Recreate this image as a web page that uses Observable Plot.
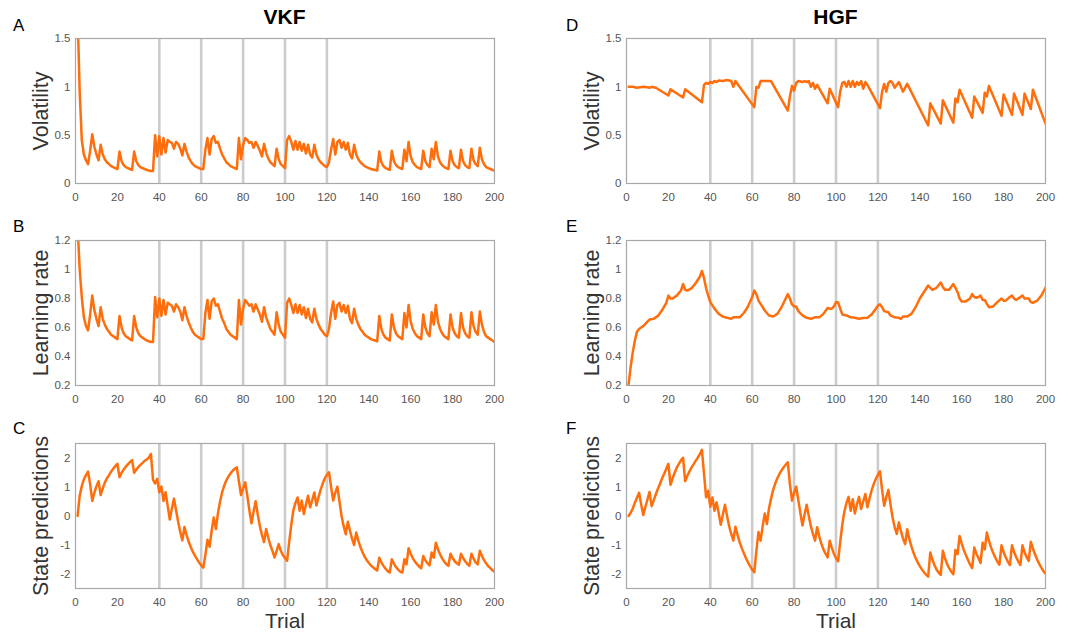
<!DOCTYPE html>
<html><head><meta charset="utf-8">
<script src="https://cdn.jsdelivr.net/npm/d3@7"></script>
<script src="https://cdn.jsdelivr.net/npm/@observablehq/plot@0.6"></script>
<style>
body{margin:0;background:#fff;font-family:"Liberation Sans",Arial,Helvetica,sans-serif;}
#root{position:relative;width:1068px;height:634px;overflow:hidden;background:#fff;}
.panel{position:absolute;}
.title{position:absolute;font-weight:bold;font-size:21px;line-height:1;transform:translateX(-50%);color:#000;}
.letter{position:absolute;font-size:17px;line-height:1;color:#000;}
</style></head><body><div id="root"></div>
<script>
const trialTicks = [0,20,40,60,80,100,120,140,160,180,200];
const blockBoundaries = [40,60,80,100,120];
const volatilityTicks = [0,0.5,1,1.5];
const learningRateTicks = [0.2,0.4,0.6,0.8,1,1.2];
const stateTicks = [-2,-1,0,1,2];

// VKF series, one value per trial (trial 1..200)
const vkfVolatility = [
1.75,0.95,0.45,0.3,0.24,0.2,0.34,0.51,0.38,0.3,
0.24,0.4,0.3,0.25,0.22,0.2,0.18,0.17,0.16,0.15,
0.33,0.23,0.19,0.17,0.16,0.15,0.14,0.33,0.23,0.19,
0.17,0.16,0.15,0.14,0.135,0.13,0.13,0.5,0.28,0.49,
0.3,0.47,0.32,0.45,0.43,0.42,0.36,0.43,0.41,0.36,
0.29,0.41,0.33,0.27,0.23,0.2,0.18,0.17,0.16,0.15,
0.15,0.35,0.47,0.3,0.46,0.49,0.42,0.43,0.36,0.3,
0.26,0.22,0.2,0.18,0.17,0.16,0.15,0.47,0.25,0.4,
0.47,0.45,0.42,0.43,0.37,0.43,0.39,0.34,0.28,0.41,
0.32,0.26,0.22,0.2,0.18,0.36,0.25,0.2,0.18,0.16,
0.45,0.49,0.43,0.35,0.44,0.35,0.43,0.34,0.41,0.31,
0.4,0.3,0.27,0.4,0.3,0.25,0.22,0.2,0.18,0.17,
0.22,0.35,0.46,0.3,0.43,0.45,0.37,0.43,0.35,0.42,
0.3,0.26,0.4,0.3,0.25,0.22,0.2,0.18,0.17,0.16,
0.15,0.145,0.14,0.135,0.33,0.22,0.18,0.16,0.15,0.14,
0.34,0.23,0.19,0.17,0.16,0.15,0.35,0.23,0.43,0.28,
0.22,0.19,0.17,0.16,0.15,0.34,0.23,0.19,0.17,0.36,
0.25,0.43,0.28,0.22,0.19,0.17,0.16,0.15,0.34,0.23,
0.19,0.17,0.16,0.35,0.23,0.19,0.17,0.16,0.36,0.24,
0.2,0.18,0.37,0.25,0.2,0.17,0.16,0.15,0.14,0.13];

const vkfLearningRate = [
1.3,1.0,0.81,0.67,0.61,0.58,0.69,0.82,0.72,0.66,
0.61,0.74,0.66,0.62,0.59,0.57,0.55,0.54,0.53,0.52,
0.68,0.6,0.56,0.54,0.53,0.52,0.51,0.68,0.6,0.56,
0.54,0.53,0.52,0.51,0.505,0.5,0.5,0.81,0.67,0.8,
0.68,0.79,0.69,0.77,0.76,0.75,0.71,0.76,0.74,0.71,
0.65,0.74,0.68,0.635,0.6,0.57,0.55,0.54,0.53,0.52,
0.52,0.7,0.79,0.66,0.78,0.8,0.75,0.76,0.71,0.66,
0.63,0.59,0.57,0.55,0.54,0.53,0.52,0.79,0.62,0.73,
0.79,0.77,0.75,0.76,0.71,0.76,0.725,0.69,0.64,0.74,
0.67,0.63,0.59,0.57,0.55,0.705,0.62,0.57,0.55,0.53,
0.77,0.8,0.755,0.7,0.76,0.7,0.755,0.69,0.74,0.665,
0.73,0.66,0.635,0.73,0.66,0.62,0.59,0.57,0.55,0.54,
0.59,0.7,0.78,0.66,0.755,0.77,0.71,0.755,0.7,0.75,
0.66,0.63,0.73,0.66,0.62,0.59,0.57,0.55,0.54,0.53,
0.52,0.515,0.51,0.505,0.68,0.59,0.55,0.53,0.52,0.51,
0.69,0.6,0.56,0.54,0.53,0.52,0.7,0.6,0.755,0.64,
0.59,0.56,0.54,0.53,0.52,0.69,0.6,0.56,0.54,0.705,
0.62,0.755,0.64,0.59,0.56,0.54,0.53,0.52,0.69,0.6,
0.56,0.54,0.53,0.7,0.6,0.56,0.54,0.53,0.705,0.61,
0.57,0.55,0.71,0.62,0.57,0.54,0.53,0.52,0.51,0.5];

const vkfState = [
0,0.7,1.03,1.26,1.41,1.53,1.09,0.52,0.8,1.03,
1.2,0.72,0.95,1.15,1.3,1.41,1.53,1.63,1.72,1.8,
1.34,1.49,1.6,1.7,1.78,1.86,1.93,1.49,1.6,1.69,
1.76,1.83,1.9,1.95,2.01,2.14,1.25,1.12,1.28,0.82,
1.02,0.52,0.82,0.35,-0.12,0.25,0.6,0.2,-0.2,-0.55,
-0.84,-0.38,-0.65,-0.88,-1.07,-1.23,-1.37,-1.49,-1.6,-1.7,
-1.78,-1.35,-0.82,-1.06,-0.5,-0.05,-0.45,0.1,0.5,0.82,
1.05,1.23,1.36,1.47,1.56,1.63,1.68,1.2,0.72,0.95,
1.16,0.7,0.2,-0.25,0.15,0.51,0.05,-0.35,-0.65,-0.9,
-0.45,-0.75,-1.0,-1.2,-1.43,-1.2,-0.97,-1.2,-1.35,-1.45,
-1.54,-0.9,-0.3,0.2,0.45,0.64,0.18,0.53,0.07,0.4,
0.7,0.3,0.55,0.81,0.36,0.65,0.9,1.12,1.3,1.42,
1.51,1.0,0.53,0.8,1.01,0.5,0.0,-0.35,-0.63,-0.2,
-0.5,-0.78,-1.0,-0.57,-0.85,-1.07,-1.25,-1.4,-1.52,-1.62,
-1.7,-1.77,-1.83,-1.88,-1.44,-1.6,-1.72,-1.82,-1.9,-1.95,
-1.49,-1.64,-1.76,-1.85,-1.92,-1.95,-1.49,-1.67,-1.11,-1.3,
-1.45,-1.57,-1.66,-1.74,-1.8,-1.38,-1.53,-1.63,-1.7,-1.26,
-1.44,-0.92,-1.15,-1.32,-1.46,-1.57,-1.66,-1.72,-1.3,-1.45,
-1.56,-1.63,-1.68,-1.3,-1.45,-1.56,-1.65,-1.72,-1.3,-1.47,
-1.6,-1.67,-1.2,-1.38,-1.52,-1.63,-1.73,-1.8,-1.87,-1.92];

// HGF series: [trial, value] vertices
const hgfVolatility = [[1,1.0],[3,1.0],[5,0.99],[8,1.0],[10,0.995],[11,0.99],[12,1.0],[14,0.99],[20,0.91],[21,0.975],[27,0.89],[28,0.975],[36,0.84],[37,1.02],[38,1.04],[39,1.03],[40,1.05],[41,1.04],[42,1.06],[43,1.05],[44,1.065],[46,1.06],[48,1.07],[50,1.06],[51,1.0],[52,1.06],[53,1.03],[61,0.79],[62,1.0],[63,0.99],[64,1.06],[69,1.06],[77,0.755],[78,0.9],[79,1.01],[80,0.96],[81,1.04],[82,1.06],[84,1.05],[85,1.06],[86,1.05],[87,1.06],[88,1.0],[89,1.04],[90,0.98],[91,1.02],[96,0.83],[97,0.98],[101,0.79],[102,0.95],[103,1.04],[104,1.05],[105,1.0],[106,1.06],[107,1.0],[108,1.06],[109,1.0],[110,1.05],[111,1.02],[112,1.06],[113,0.98],[114,1.05],[115,1.02],[121,0.78],[122,0.95],[123,1.03],[124,0.95],[125,1.04],[126,1.06],[127,1.04],[128,0.99],[130,1.05],[132,0.95],[134,1.03],[144,0.6],[145,0.83],[150,0.62],[151,0.86],[156,0.63],[157,0.88],[158,0.84],[159,0.97],[165,0.68],[166,0.9],[170,0.73],[171,0.94],[172,0.9],[173,1.01],[179,0.7],[180,0.92],[184,0.71],[185,0.93],[189,0.71],[190,0.93],[193,0.77],[194,0.97],[200,0.62]];

const hgfLearningRate = [[1,0.21],[2,0.33],[3,0.43],[4,0.51],[5,0.57],[6,0.59],[8,0.61],[10,0.64],[11,0.655],[13,0.66],[15,0.68],[17,0.72],[19,0.77],[20,0.82],[21,0.8],[22,0.8],[24,0.82],[26,0.855],[27,0.9],[28,0.86],[29,0.855],[31,0.87],[33,0.905],[35,0.95],[36,0.99],[37,0.94],[38,0.87],[39,0.82],[40,0.775],[42,0.73],[44,0.695],[46,0.675],[48,0.667],[50,0.66],[51,0.67],[54,0.67],[56,0.7],[58,0.745],[60,0.81],[61,0.855],[62,0.83],[63,0.785],[64,0.763],[66,0.717],[68,0.683],[70,0.676],[72,0.694],[74,0.74],[76,0.8],[77,0.83],[78,0.8],[79,0.76],[80,0.745],[81,0.745],[82,0.713],[84,0.683],[86,0.667],[88,0.66],[90,0.67],[92,0.67],[94,0.694],[96,0.735],[97,0.73],[98,0.73],[99,0.745],[100,0.775],[101,0.775],[102,0.73],[103,0.69],[105,0.683],[107,0.67],[109,0.667],[111,0.66],[113,0.665],[115,0.667],[117,0.69],[119,0.73],[120,0.75],[121,0.76],[122,0.74],[123,0.713],[125,0.705],[126,0.683],[128,0.67],[130,0.667],[131,0.66],[132,0.676],[134,0.676],[136,0.694],[138,0.74],[140,0.8],[142,0.845],[144,0.89],[145,0.874],[146,0.86],[148,0.874],[150,0.91],[151,0.88],[152,0.86],[154,0.86],[156,0.9],[157,0.874],[158,0.845],[159,0.8],[160,0.78],[162,0.78],[164,0.8],[165,0.83],[166,0.81],[167,0.805],[168,0.81],[169,0.82],[170,0.79],[171,0.79],[172,0.763],[173,0.74],[175,0.745],[177,0.775],[179,0.8],[180,0.785],[181,0.785],[183,0.81],[184,0.82],[185,0.8],[186,0.79],[188,0.81],[189,0.82],[190,0.8],[192,0.8],[193,0.775],[194,0.77],[196,0.785],[198,0.82],[200,0.874]];

const hgfState = [
0,0.11,0.26,0.46,0.63,0.8,0.4,0.03,0.31,0.57,
0.83,0.34,0.54,0.75,0.94,1.11,1.3,1.46,1.63,1.8,
1.07,1.3,1.49,1.67,1.8,1.92,2.01,1.2,1.38,1.53,
1.67,1.78,1.9,2.01,2.13,2.28,1.45,0.64,0.87,0.32,
0.64,0.18,0.47,0.1,-0.3,0.05,0.39,0.0,-0.35,-0.62,
-0.85,-0.37,-0.65,-0.9,-1.1,-1.28,-1.45,-1.6,-1.73,-1.85,
-1.94,-1.2,-0.55,-0.85,-0.35,0.09,-0.28,0.25,0.6,0.9,
1.12,1.3,1.45,1.57,1.68,1.77,1.85,1.1,0.53,0.8,
1.01,0.55,0.1,-0.33,0.05,0.39,0.0,-0.35,-0.62,-0.85,
-0.39,-0.7,-0.95,-1.15,-1.3,-1.43,-0.85,-1.1,-1.3,-1.45,
-1.56,-0.9,-0.3,0.15,0.45,0.66,0.18,0.58,0.09,0.4,
0.66,0.24,0.5,0.76,0.3,0.6,0.88,1.1,1.28,1.42,
1.54,0.9,0.35,0.65,0.9,0.4,-0.05,-0.38,-0.62,-0.22,
-0.52,-0.78,-0.97,-0.46,-0.8,-1.05,-1.27,-1.45,-1.6,-1.73,
-1.84,-1.94,-2.02,-2.09,-1.26,-1.5,-1.7,-1.85,-1.95,-2.03,
-1.2,-1.45,-1.65,-1.8,-1.92,-2.01,-1.17,-1.32,-0.69,-0.95,
-1.17,-1.35,-1.52,-1.67,-1.8,-1.09,-1.3,-1.45,-1.62,-0.92,
-1.15,-0.57,-0.85,-1.08,-1.27,-1.43,-1.57,-1.68,-1.01,-1.24,
-1.42,-1.57,-1.69,-1.01,-1.24,-1.42,-1.57,-1.69,-1.01,-1.25,
-1.42,-1.55,-0.89,-1.12,-1.32,-1.5,-1.65,-1.78,-1.9,-1.99];

const fromSeries = arr => arr.map((v, i) => ({trial: i + 1, value: v}));
const fromPairs = arr => arr.map(([t, v]) => ({trial: t, value: v}));

const FONT = '"Liberation Sans", Arial, Helvetica, sans-serif';
const root = document.getElementById("root");

const columns = [
  {left: 0, width: 510, marginLeft: 75, marginRight: 16},
  {left: 534, width: 527, marginLeft: 92, marginRight: 16}
];
const rows = [
  {frameTop: 38, marginBottom: 22, yDomain: [0, 1.5], yTicks: volatilityTicks, label: "Volatility"},
  {frameTop: 240, marginBottom: 22, yDomain: [0.2, 1.2], yTicks: learningRateTicks, label: "Learning rate"},
  {frameTop: 443, marginBottom: 46, yDomain: [-2.5, 2.5], yTicks: stateTicks, label: "State predictions", xLabel: "Trial"}
];
const panels = [
  {col: 0, row: 0, data: fromSeries(vkfVolatility)},
  {col: 0, row: 1, data: fromSeries(vkfLearningRate)},
  {col: 0, row: 2, data: fromSeries(vkfState)},
  {col: 1, row: 0, data: fromPairs(hgfVolatility)},
  {col: 1, row: 1, data: fromPairs(hgfLearningRate)},
  {col: 1, row: 2, data: fromSeries(hgfState)}
];
const PLOT_H = 145, MT = 20;

for (const p of panels) {
  const c = columns[p.col], r = rows[p.row];
  const chart = Plot.plot({
    width: c.width,
    height: MT + PLOT_H + r.marginBottom,
    marginTop: MT,
    marginBottom: r.marginBottom,
    marginLeft: c.marginLeft,
    marginRight: c.marginRight,
    x: {domain: [0, 200]},
    y: {domain: r.yDomain},
    style: {fontFamily: FONT, background: "transparent", overflow: "visible"},
    marks: [
      Plot.ruleX(blockBoundaries, {stroke: "#cccccc", strokeWidth: 2.6}),
      Plot.line(p.data, {x: "trial", y: "value", stroke: "#ff6e0c", strokeWidth: 2.5, strokeLinejoin: "round", clip: true}),
      Plot.frame({stroke: "#a8a8a8", strokeWidth: 1.2}),
      Plot.axisX({ticks: trialTicks, tickSize: 0, tickPadding: 9, label: null, fontSize: 11.5, color: "#555", tickFormat: d => String(d)}),
      Plot.axisY({ticks: r.yTicks, tickSize: 0, tickPadding: 5, label: null, fontSize: 11.5, color: "#555", tickFormat: d => String(d)}),
      Plot.text([r.label], {text: d => d, frameAnchor: "left", textAnchor: "middle", dx: -34, rotate: -90, fontSize: 21.5, fill: "#333"}),
      r.xLabel ? Plot.text([r.xLabel], {text: d => d, frameAnchor: "bottom", textAnchor: "middle", dy: 33, lineAnchor: "middle", fontSize: 21, fill: "#333"}) : null
    ]
  });
  chart.classList.add("panel");
  chart.style.left = c.left + "px";
  chart.style.top = (r.frameTop - MT) + "px";
  root.appendChild(chart);
}

const titles = [{text: "VKF", x: 284.5}, {text: "HGF", x: 835.5}];
for (const t of titles) {
  const d = document.createElement("div");
  d.className = "title"; d.textContent = t.text;
  d.style.left = t.x + "px"; d.style.top = "6px";
  root.appendChild(d);
}
const letters = [
  {text: "A", x: 13, y: 17}, {text: "B", x: 13, y: 218}, {text: "C", x: 13, y: 420},
  {text: "D", x: 566, y: 17}, {text: "E", x: 566, y: 218}, {text: "F", x: 566, y: 420}
];
for (const l of letters) {
  const d = document.createElement("div");
  d.className = "letter"; d.textContent = l.text;
  d.style.left = l.x + "px"; d.style.top = l.y + "px";
  root.appendChild(d);
}
</script></body></html>
